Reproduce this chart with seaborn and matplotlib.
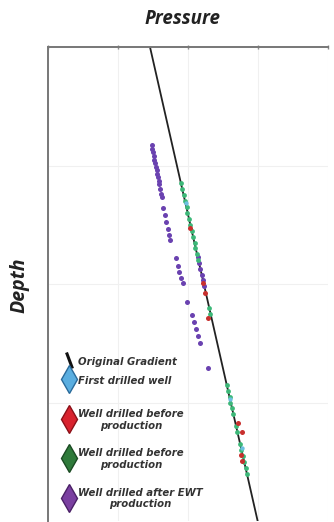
import numpy as np
import pandas as pd
import matplotlib
matplotlib.use("Agg")
import matplotlib.pyplot as plt
from matplotlib.lines import Line2D
from matplotlib.markers import MarkerStyle
from matplotlib.transforms import Affine2D
import seaborn as sns

# ---- data (pressure in arbitrary units, depth in arbitrary units) ----
gradient_depth = [0.0, 4.0]
gradient_pressure = [1.457, 2.995]

first_well_depth = [1.32, 2.97, 3.38]
first_well_pressure = [1.965, 2.604, 2.768]

before_red_depth = [1.53, 1.99, 2.08, 2.29, 3.17, 3.25, 3.44, 3.49]
before_red_pressure = [2.029, 2.219, 2.243, 2.290, 2.710, 2.767, 2.753, 2.767]

before_green_depth = [1.15, 1.20, 1.25, 1.30, 1.35, 1.40, 1.45, 1.50, 1.55, 1.60,
                      1.65, 1.70, 1.75, 1.80, 2.20, 2.25, 2.85, 2.90, 2.95, 3.00,
                      3.05, 3.10, 3.20, 3.25, 3.35, 3.40, 3.45, 3.50, 3.55, 3.60]
before_green_pressure = [1.902, 1.915, 1.942, 1.953, 1.981, 1.991, 2.019, 2.030, 2.058, 2.068,
                         2.096, 2.107, 2.134, 2.146, 2.307, 2.318, 2.556, 2.569, 2.596, 2.607,
                         2.634, 2.646, 2.692, 2.703, 2.749, 2.761, 2.788, 2.799, 2.826, 2.838]

after_ewt_depth = [0.83, 0.86, 0.89, 0.92, 0.95, 0.98, 1.01, 1.04, 1.07, 1.10,
                   1.13, 1.16, 1.20, 1.24, 1.27,
                   1.36, 1.42, 1.48, 1.54, 1.59, 1.63,
                   1.78, 1.85, 1.90, 1.95, 1.99,
                   2.15, 2.26, 2.32, 2.38, 2.44, 2.50, 2.71,
                   1.77, 1.82, 1.87, 1.92, 1.97, 2.02]
after_ewt_pressure = [1.482, 1.492, 1.502, 1.511, 1.521, 1.531, 1.541, 1.550, 1.560, 1.570,
                      1.580, 1.590, 1.603, 1.616, 1.625,
                      1.647, 1.668, 1.690, 1.711, 1.728, 1.743,
                      1.825, 1.850, 1.875, 1.905, 1.930,
                      1.980, 2.053, 2.080, 2.110, 2.140, 2.170, 2.290,
                      2.138, 2.158, 2.176, 2.195, 2.215, 2.234]

tick_values = [0, 1, 2, 3, 4]

labels = ["Original Gradient", "First drilled well", "Well drilled before\nproduction",
          "Well drilled before\nproduction", "Well drilled after EWT\nproduction"]

# ---- style ----
sns.set_style("white")
plt.rcParams["font.family"] = ["DejaVu Sans"]

fig = plt.figure(figsize=(3.34, 5.22), dpi=100)
ax = fig.add_axes([48 / 334, 1 / 522, 280 / 334, 474 / 522])

pt_green = "#3cb878"
pt_red = "#c8302e"
pt_blue = "#6cc0e0"
pt_purple = "#6a42b0"

sns.lineplot(x=gradient_pressure, y=gradient_depth, ax=ax, color="#222222",
             linewidth=1.3, sort=False, estimator=None)
sns.scatterplot(x=after_ewt_pressure, y=after_ewt_depth, ax=ax, color=pt_purple,
                s=13, linewidth=0, zorder=3)
sns.scatterplot(x=before_green_pressure, y=before_green_depth, ax=ax, color=pt_green,
                s=12, linewidth=0, zorder=3)
sns.scatterplot(x=first_well_pressure, y=first_well_depth, ax=ax, color=pt_blue,
                s=10, linewidth=0, zorder=3)
sns.scatterplot(x=before_red_pressure, y=before_red_depth, ax=ax, color=pt_red,
                s=13, linewidth=0, zorder=4)

ax.set_xlim(0, 4)
ax.set_ylim(4, 0)
ax.set_xticks(tick_values)
ax.set_yticks(tick_values)
ax.set_xticklabels([])
ax.set_yticklabels([])
ax.xaxis.tick_top()
ax.tick_params(axis="both", length=3, width=1, color="#888888", direction="inout")
ax.grid(True, color="#f0f0f0", linewidth=0.8)
ax.set_axisbelow(True)

for side in ["right", "bottom"]:
    ax.spines[side].set_visible(False)
for side in ["left", "top"]:
    ax.spines[side].set_color("#777777")
    ax.spines[side].set_linewidth(1.4)

fig.text(183 / 334, 1 - 19 / 522, "Pressure", ha="center", va="center",
         fontsize=13.5, fontweight="bold", fontstyle="italic", color="#222222",
         family="Open Sans")
fig.text(20 / 334, 1 - 285 / 522, "Depth", ha="center", va="center", rotation=90,
         fontsize=14, fontweight="bold", fontstyle="italic", color="#222222",
         family="Open Sans")

legend_font = {"size": 7.3, "weight": "bold", "style": "italic", "family": "DejaVu Sans"}
grad_marker = MarkerStyle("|", transform=Affine2D().rotate_deg(20))
handles = [
    Line2D([], [], linestyle="none", marker=grad_marker, markersize=12,
           markeredgewidth=2.2, color="#111111"),
    Line2D([], [], linestyle="none", marker="d", markersize=14,
           markerfacecolor="#5aaee0", markeredgecolor="#2a6a9a"),
    Line2D([], [], linestyle="none", marker="d", markersize=14,
           markerfacecolor="#d8222e", markeredgecolor="#8a1018"),
    Line2D([], [], linestyle="none", marker="d", markersize=14,
           markerfacecolor="#2e7a3a", markeredgecolor="#1a4a22"),
    Line2D([], [], linestyle="none", marker="d", markersize=14,
           markerfacecolor="#7a3fa0", markeredgecolor="#4a2066"),
]

leg1 = ax.legend(handles[:2], labels[:2], loc="upper left",
                 bbox_to_anchor=(60 / 334, 1 - 350 / 522), bbox_transform=fig.transFigure,
                 frameon=False, handlelength=0.8, handletextpad=0.5, labelspacing=0.55,
                 handleheight=1.6, borderpad=0, prop=legend_font)
ax.add_artist(leg1)
leg2 = ax.legend(handles[2:], labels[2:], loc="upper left",
                 bbox_to_anchor=(60 / 334, 1 - 404 / 522), bbox_transform=fig.transFigure,
                 frameon=False, handlelength=0.8, handletextpad=0.5, labelspacing=1.75,
                 handleheight=1.6, borderpad=0, prop=legend_font)
for lg in (leg1, leg2):
    for t in lg.get_texts():
        t.set_multialignment("center")
        t.set_color("#333333")

fig.savefig("out.png", dpi=100)
